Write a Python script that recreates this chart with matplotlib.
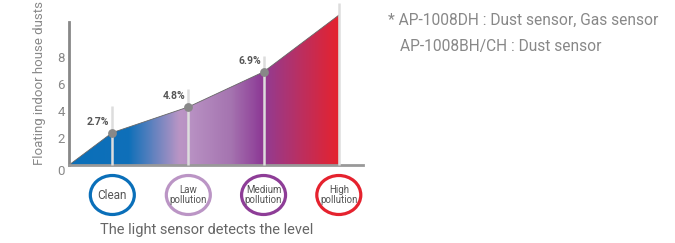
import matplotlib.pyplot as plt
import numpy as np
from matplotlib.colors import LinearSegmentedColormap
from matplotlib.patches import Ellipse
import matplotlib.transforms as mtransforms

plt.rcParams['font.family'] = ['Roboto', 'DejaVu Sans']

# data
x_pos = [0, 0.57, 1.57, 2.56, 3.55]
dust = [0, 2.4, 4.3, 6.9, 11.1]
guide_top = [4.4, 5.6, 8.1, 12.0]
pct_labels = ['2.7%', '4.8%', '6.9%']
levels = ['Clean', 'Law\npollution', 'Medium\npollution', 'High\npollution']
level_colors = ['#0a6fb9', '#bb95c5', '#8e3d97', '#e5222e']
y_ticks = [0, 2, 4, 6, 8]
notes = ['* AP-1008DH : Dust sensor, Gas sensor', 'AP-1008BH/CH : Dust sensor']

fig = plt.figure(figsize=(6.75, 2.43), dpi=100)
# axes placed in pixels: left 69, right 363, bottom 165 (from top), top 0
ax = fig.add_axes([69 / 675, (243 - 165) / 243, (363 - 69) / 675, 165 / 243])
ax.set_xlim(0, (363 - 69) / 76)
ax.set_ylim(0, 165 / 13.5)

# gradient area under the curve
stops = [(0.0, '#0a6fb9'), (0.22, '#0f70b9'), (0.41, '#bb95c5'),
         (0.45, '#b891c3'), (0.6, '#a574b0'), (0.71, '#8e3d97'),
         (1.0, '#e5222e')]
cmap = LinearSegmentedColormap.from_list('dust', stops)
grad = np.linspace(0, 1, 500).reshape(1, -1)
img = ax.imshow(grad, cmap=cmap, aspect='auto',
                extent=[x_pos[0], x_pos[-1], 0, max(dust)], zorder=1)
poly = ax.fill_between(x_pos, dust, 0, color='none', lw=0)
img.set_clip_path(poly.get_paths()[0], transform=ax.transData)
ax.plot(x_pos, dust, color='#666666', lw=0.6, zorder=2)

# light guide lines
for xp, top in zip(x_pos[1:], guide_top):
    ax.plot([xp, xp], [0, top], color='#dddddd', lw=1.8, zorder=3,
            solid_capstyle='butt', clip_on=False)

ax.scatter(x_pos[1:4], dust[1:4], s=40, color='#888888', zorder=4, lw=0)
for xp, yp, lab in zip(x_pos[1:4], dust[1:4], pct_labels):
    ax.annotate(lab, (xp, yp), xytext=(-14, 6), textcoords='offset pixels',
                ha='center', va='bottom', fontsize=7.5, color='#555555',
                fontweight='bold')

# axes styling
for side in ['top', 'right']:
    ax.spines[side].set_visible(False)
ax.spines['left'].set_bounds(0, 10.6)
ax.spines['left'].set_color('#888888')
ax.spines['left'].set_linewidth(2)
ax.spines['bottom'].set_color('#999999')
ax.spines['bottom'].set_linewidth(2)
ax.set_xticks([])
ax.set_yticks(y_ticks)
ax.tick_params(axis='y', length=0, labelsize=9.5, labelcolor='#888888', pad=3)
for t in ax.get_yticklabels():
    if t.get_text() == '0':
        t.set_va('top')
ax.set_ylabel('Floating indoor house dusts', fontsize=9.5, color='#888888')
ax.yaxis.set_label_coords(-0.078, 0.50)

# level circles below the axis
trans = mtransforms.blended_transform_factory(ax.transData, ax.transAxes)
for xp, lab, col in zip(x_pos[1:], levels, level_colors):
    e = Ellipse((xp, -30 / 165), width=44 / 76, height=39 / 165,
                transform=trans, fill=False, edgecolor=col, lw=2.3,
                clip_on=False)
    ax.add_patch(e)
    fs = 8.5 if '\n' not in lab else 7
    ax.text(xp, -30 / 165, lab, transform=trans, ha='center', va='center',
            fontsize=fs, color='#555555', linespacing=1.0)

fig.text(207 / 675, 1 - 230 / 243, 'The light sensor detects the level',
         ha='center', va='center', fontsize=10.5, color='#666666')

fig.text(388 / 675, 1 - 20 / 243, notes[0], ha='left', va='center',
         fontsize=11.2, color='#888888')
fig.text(400 / 675, 1 - 47 / 243, notes[1], ha='left', va='center',
         fontsize=11.2, color='#888888')

fig.savefig('out.png', dpi=100)
